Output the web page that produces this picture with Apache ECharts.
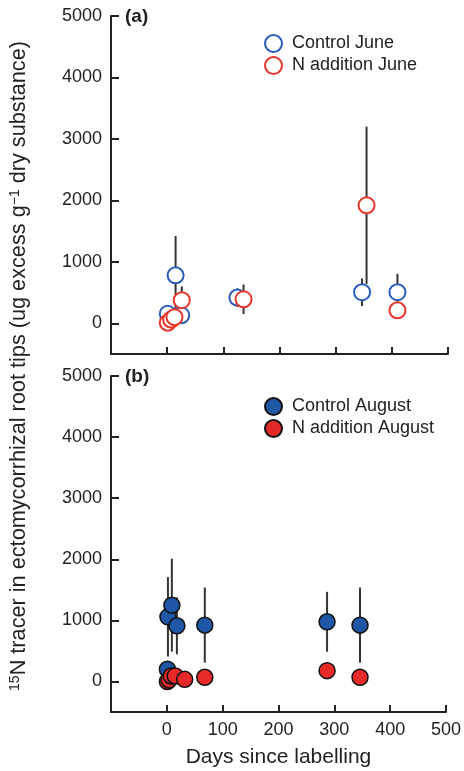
<!DOCTYPE html>
<html>
<head>
<meta charset="utf-8">
<script src="https://cdn.jsdelivr.net/npm/echarts@6/dist/echarts.min.js"></script>
<style>
  html, body { margin: 0; padding: 0; background: #fff; }
  #chart { width: 464px; height: 771px; }
</style>
</head>
<body>
<div id="chart"></div>
<script>
  // tick labels
  var xTicks = [0, 100, 200, 300, 400, 500];
  var yTicks = [0, 1000, 2000, 3000, 4000, 5000];

  // (a) June labelling
  var juneControlDays = [1, 15, 25, 125, 347, 410];
  var juneControlMean = [155, 780, 130, 418, 505, 505];
  var juneControlErr  = [0, 640, 0, 150, 225, 300];

  var juneNDays = [1, 7, 13, 26, 136, 355, 410];
  var juneNMean = [10, 60, 100, 375, 390, 1920, 210];
  var juneNErr  = [0, 0, 0, 225, 240, 1280, 0];

  // (b) August labelling
  var augControlDays = [1, 2, 9, 18, 68, 287, 346];
  var augControlMean = [199, 1058, 1249, 911, 922, 977, 922];
  var augControlErr  = [0, 650, 760, 465, 615, 490, 615];

  var augNDays = [1, 4, 8, 15, 32, 68, 287, 346];
  var augNMean = [0, 25, 90, 90, 35, 68, 177, 68];

  var font = 'Liberation Sans, Arial, sans-serif';
  var ink = '#222';

  function pts(days, mean) {
    return days.map(function (d, i) { return [d, mean[i]]; });
  }
  function bars(days, mean, err) {
    var out = [];
    days.forEach(function (d, i) {
      if (err[i] > 0) out.push([d, mean[i] - err[i], mean[i] + err[i]]);
    });
    return out;
  }
  function errRender(params, api) {
    var p1 = api.coord([api.value(0), api.value(1)]);
    var p2 = api.coord([api.value(0), api.value(2)]);
    return {
      type: 'line',
      shape: {x1: p1[0], y1: p1[1], x2: p2[0], y2: p2[1]},
      style: {stroke: '#333', lineWidth: 2}
    };
  }
  function errSeries(idx, data) {
    return {
      type: 'custom', xAxisIndex: idx, yAxisIndex: idx, z: 1,
      renderItem: errRender, encode: {x: 0, y: [1, 2]}, data: data, silent: true
    };
  }
  function xAx(idx, showLabel) {
    return {
      type: 'value', gridIndex: idx, min: -100, max: 500, interval: 100,
      splitLine: {show: false},
      axisLine: {onZero: false, lineStyle: {color: ink, width: 2}},
      axisTick: {inside: true, length: 7, customValues: xTicks, lineStyle: {color: ink, width: 2}},
      axisLabel: {
        show: showLabel, customValues: xTicks, fontSize: 18, color: ink, fontFamily: font, margin: 9,
        formatter: function (v) { return String(v); }
      },
      name: showLabel ? 'Days since labelling' : '',
      nameLocation: 'middle', nameGap: 35,
      nameTextStyle: {fontSize: 21, color: ink, fontFamily: font}
    };
  }
  function yAx(idx) {
    return {
      type: 'value', gridIndex: idx, min: -500, max: 5000,
      splitLine: {show: false},
      axisLine: {onZero: false, lineStyle: {color: ink, width: 2}},
      axisTick: {inside: true, length: 8, customValues: yTicks, lineStyle: {color: ink, width: 2}},
      axisLabel: {
        customValues: yTicks, fontSize: 18, color: ink, fontFamily: font, margin: 9,
        formatter: function (v) { return String(v); }
      }
    };
  }

  var legendText = {fontSize: 18, color: ink, fontFamily: font, padding: [0, 0, 0, 5]};

  var chart = echarts.init(document.getElementById('chart'));
  chart.setOption({
    animation: false,
    grid: [
      {left: 111, top: 16, width: 337, height: 338},
      {left: 111, top: 376, width: 337, height: 336}
    ],
    xAxis: [xAx(0, false), xAx(1, true)],
    yAxis: [yAx(0), yAx(1)],
    legend: [{
      data: ['Control June', 'N addition June'],
      orient: 'vertical', left: 259, top: 29, itemGap: 3,
      itemWidth: 17, itemHeight: 17, itemStyle: {borderWidth: 2},
      textStyle: legendText
    }, {
      data: ['Control August', 'N addition August'],
      orient: 'vertical', left: 259, top: 392, itemGap: 3,
      itemWidth: 17, itemHeight: 17,
      textStyle: legendText
    }],
    graphic: [{
      type: 'text', x: 125, y: 7,
      style: {text: '(a)', font: 'bold 19px ' + font, fill: ink}
    }, {
      type: 'text', x: 125, y: 367,
      style: {text: '(b)', font: 'bold 19px ' + font, fill: ink}
    }, {
      type: 'text', x: 19, y: 366, rotation: Math.PI / 2,
      style: {
        text: '{s|15}{n|N tracer in ectomycorrhizal root tips (ug excess g}{s|\u22121}{n| dry substance)}',
        align: 'center', verticalAlign: 'middle', fill: ink,
        rich: {
          n: {fontSize: 21.7, fontFamily: font, fill: ink, verticalAlign: 'bottom'},
          s: {fontSize: 14, fontFamily: font, fill: ink, verticalAlign: 'top'}
        }
      }
    }],
    series: [
      errSeries(0, bars(juneControlDays, juneControlMean, juneControlErr)),
      errSeries(0, bars(juneNDays, juneNMean, juneNErr)),
      errSeries(1, bars(augControlDays, augControlMean, augControlErr)),
      {
        name: 'Control June', type: 'scatter', xAxisIndex: 0, yAxisIndex: 0, z: 3,
        symbolSize: 16, data: pts(juneControlDays, juneControlMean),
        itemStyle: {color: '#fff', borderColor: '#2b5cb8', borderWidth: 2, opacity: 1}
      },
      {
        name: 'N addition June', type: 'scatter', xAxisIndex: 0, yAxisIndex: 0, z: 3,
        symbolSize: 16, data: pts(juneNDays, juneNMean),
        itemStyle: {color: '#fff', borderColor: '#e8352b', borderWidth: 2, opacity: 1}
      },
      {
        name: 'Control August', type: 'scatter', xAxisIndex: 1, yAxisIndex: 1, z: 3,
        symbolSize: 16, data: pts(augControlDays, augControlMean),
        itemStyle: {color: '#1f56a5', borderColor: '#111', borderWidth: 1.5, opacity: 1}
      },
      {
        name: 'N addition August', type: 'scatter', xAxisIndex: 1, yAxisIndex: 1, z: 3,
        symbolSize: 16, data: pts(augNDays, augNMean),
        itemStyle: {color: '#e62a2a', borderColor: '#111', borderWidth: 1.5, opacity: 1}
      }
    ]
  });
</script>
</body>
</html>
